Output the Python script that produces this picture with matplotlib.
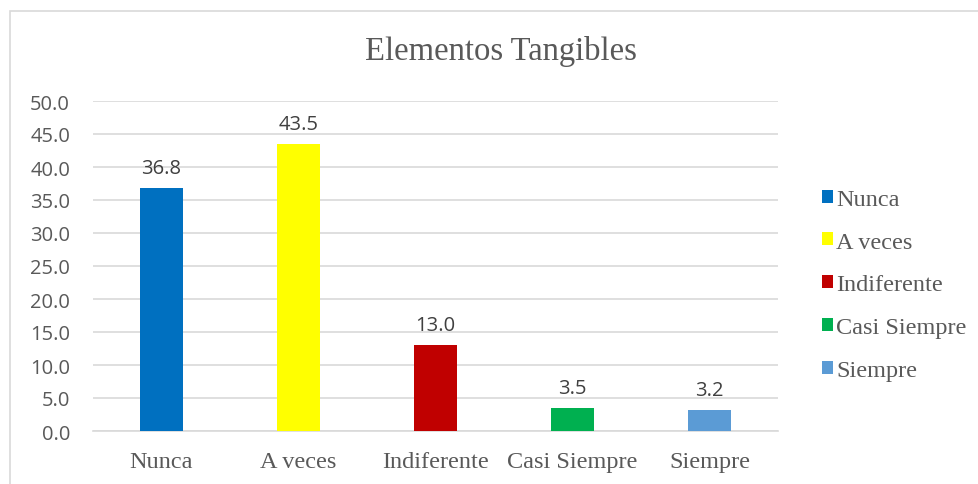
import matplotlib
matplotlib.use("Agg")
import matplotlib.pyplot as plt
from matplotlib.patches import Patch, Rectangle

categories = ["Nunca", "A veces", "Indiferente", "Casi Siempre", "Siempre"]
values = [36.8, 43.5, 13.0, 3.5, 3.2]
colors = ["#0070C0", "#FFFF00", "#C00000", "#00B050", "#5B9BD5"]
y_ticks = [0, 5, 10, 15, 20, 25, 30, 35, 40, 45, 50]
title = "Elementos Tangibles"

W, H = 979, 485
fig = plt.figure(figsize=(W / 100, H / 100), dpi=100)

# chart frame
fig.patches.append(Rectangle((10 / W, -0.1), 1.2, 1 - 12 / H + 0.1,
                             transform=fig.transFigure, fill=False,
                             edgecolor="#d9d9d9", linewidth=1.2))

ax = fig.add_axes([93 / W, 1 - 432 / H, (778 - 93) / W, (432 - 102) / H])
x = list(range(len(categories)))
ax.bar(x, values, width=0.315, color=colors, zorder=3)

ax.set_xlim(-0.5, len(categories) - 0.5)
ax.set_ylim(0, 50)
ax.set_yticks(y_ticks)
ax.set_yticklabels([f"{v:.1f}" for v in y_ticks], fontfamily="Open Sans",
                   fontsize=14.5, color="#595959")
ax.set_xticks(x)
ax.set_xticklabels(categories, fontfamily="Liberation Serif", fontsize=17.5,
                   color="#595959")
ax.tick_params(axis="both", length=0)
ax.tick_params(axis="y", pad=16.5)
ax.tick_params(axis="x", pad=14.5)
ax.grid(axis="y", color="#d9d9d9", linewidth=1.2, zorder=0)
for s in ["top", "right", "left"]:
    ax.spines[s].set_visible(False)
ax.spines["bottom"].set_color("#d9d9d9")
ax.spines["bottom"].set_linewidth(1.2)

for xi, v in zip(x, values):
    ax.annotate(f"{v:.1f}", (xi, v), xytext=(0, 7), textcoords="offset points",
                ha="center", va="bottom", fontfamily="Open Sans", fontsize=14.5,
                color="#404040")

fig.text(501 / W, 1 - 52 / H, title, ha="center", va="center",
         fontfamily="Liberation Serif", fontsize=23.5, color="#595959")

handles = [Patch(facecolor=c, edgecolor="none") for c in colors]
leg = fig.legend(handles, categories, loc="center left",
                 bbox_to_anchor=(800 / W, 1 - 286 / H), frameon=False,
                 prop={"family": "Liberation Serif", "size": 17.5},
                 handlelength=0.45, handleheight=0.45, handletextpad=0.15,
                 labelspacing=0.9)
for t in leg.get_texts():
    t.set_color("#595959")

fig.savefig("out.png", dpi=100)
